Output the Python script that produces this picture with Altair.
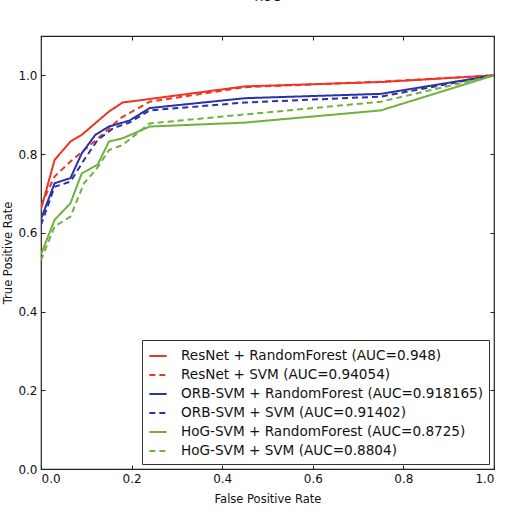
import altair as alt
import pandas as pd

series_names = [
    "ResNet + RandomForest (AUC=0.948)",
    "ResNet + SVM (AUC=0.94054)",
    "ORB-SVM + RandomForest (AUC=0.918165)",
    "ORB-SVM + SVM (AUC=0.91402)",
    "HoG-SVM + RandomForest (AUC=0.8725)",
    "HoG-SVM + SVM (AUC=0.8804)",
]
series_colors = ["#ee3524", "#ee3524", "#2a32a8", "#2a32a8", "#72b03e", "#72b03e"]
series_dash = [[1, 0], [6, 4], [1, 0], [6, 4], [1, 0], [6, 4]]

resnet_rf_x = [0, 0.03, 0.065, 0.09, 0.15, 0.18, 0.24, 0.45, 0.75, 1.0]
resnet_rf_y = [0.66, 0.785, 0.832, 0.849, 0.908, 0.931, 0.94, 0.972, 0.983, 1.0]
resnet_svm_x = [0, 0.03, 0.065, 0.095, 0.135, 0.175, 0.24, 0.45, 0.75, 1.0]
resnet_svm_y = [0.67, 0.743, 0.781, 0.81, 0.849, 0.891, 0.933, 0.97, 0.984, 1.0]
orb_rf_x = [0, 0.03, 0.065, 0.09, 0.12, 0.15, 0.195, 0.24, 0.45, 0.75, 1.0]
orb_rf_y = [0.635, 0.726, 0.739, 0.802, 0.849, 0.87, 0.885, 0.917, 0.942, 0.953, 1.0]
orb_svm_x = [0, 0.03, 0.065, 0.095, 0.125, 0.16, 0.195, 0.24, 0.45, 0.75, 1.0]
orb_svm_y = [0.62, 0.717, 0.73, 0.785, 0.836, 0.866, 0.88, 0.911, 0.931, 0.946, 1.0]
hog_rf_x = [0, 0.03, 0.065, 0.09, 0.125, 0.15, 0.18, 0.24, 0.45, 0.75, 1.0]
hog_rf_y = [0.545, 0.633, 0.675, 0.751, 0.773, 0.832, 0.84, 0.87, 0.88, 0.911, 1.0]
hog_svm_x = [0, 0.012, 0.03, 0.065, 0.095, 0.125, 0.15, 0.18, 0.24, 0.75, 1.0]
hog_svm_y = [0.53, 0.565, 0.616, 0.641, 0.726, 0.766, 0.81, 0.823, 0.878, 0.933, 1.0]

xs = [resnet_rf_x, resnet_svm_x, orb_rf_x, orb_svm_x, hog_rf_x, hog_svm_x]
ys = [resnet_rf_y, resnet_svm_y, orb_rf_y, orb_svm_y, hog_rf_y, hog_svm_y]

x_ticks = [0.0, 0.2, 0.4, 0.6, 0.8, 1.0]
y_ticks = [0.0, 0.2, 0.4, 0.6, 0.8, 1.0]

rows = []
for name, xv, yv in zip(series_names, xs, ys):
    for i, (a, b) in enumerate(zip(xv, yv)):
        rows.append({"series": name, "fpr": a, "tpr": b, "order": i})
df = pd.DataFrame(rows)

FONT = "DejaVu Sans"

xscale = alt.Scale(domain=[0, 1], nice=False, zero=False)
yscale = alt.Scale(domain=[0, 1.1], nice=False, zero=False)


def make_legend():
    return alt.Legend(title=None, orient="none", legendX=101, legendY=304,
                      symbolType="stroke", symbolStrokeWidth=2,
                      symbolSize=300, labelFontSize=13.6, labelFont=FONT,
                      labelColor="#111", rowPadding=2,
                      strokeColor="#333", fillColor="white",
                      padding=6, labelLimit=400, labelOffset=13)


lines = alt.Chart(df).mark_line(strokeWidth=2, clip=True).encode(
    x=alt.X("fpr:Q", scale=xscale,
            axis=alt.Axis(values=x_ticks, format=".1f", title="False Positive Rate",
                          offset=-4, tickSize=4, domain=False, grid=False,
                          labelPadding=4, titlePadding=9, tickColor="#222")),
    y=alt.Y("tpr:Q", scale=yscale,
            axis=alt.Axis(values=y_ticks, format=".1f", title="True Positive Rate",
                          offset=-4, tickSize=4, domain=False, grid=False,
                          labelPadding=4, titlePadding=4, tickColor="#222")),
    color=alt.Color("series:N",
                    scale=alt.Scale(domain=series_names, range=series_colors),
                    legend=make_legend()),
    strokeDash=alt.StrokeDash("series:N",
                              scale=alt.Scale(domain=series_names, range=series_dash),
                              legend=make_legend()),
    order="order:Q",
)

ticks2 = alt.Chart(df).mark_point(opacity=0).encode(
    x=alt.X("fpr:Q", scale=xscale,
            axis=alt.Axis(values=x_ticks, labels=False, title=None, offset=-4, tickSize=4,
                          domain=False, grid=False, tickColor="#222")),
    y=alt.Y("tpr:Q", scale=yscale,
            axis=alt.Axis(values=y_ticks, labels=False, title=None, offset=-4, tickSize=4,
                          domain=False, grid=False, tickColor="#222")),
)

chart = alt.layer(lines, ticks2).resolve_axis(x="independent", y="independent").properties(
    width=453, height=433,
    title=alt.TitleParams("ROC", fontSize=12, font=FONT, fontWeight="normal", offset=32, color="#111"),
    autosize=alt.AutoSizeParams(type="none"),
    padding={"left": 41, "top": 36, "right": 13, "bottom": 58},
).configure_view(stroke="#222", strokeWidth=1.2).configure_axis(
    labelFont=FONT, labelFontSize=12, labelColor="#111", titleFont=FONT, titleFontSize=11.5,
    titleColor="#111", titleFontWeight="normal"
)

chart.save("out.html", embed_options={"renderer": "svg", "actions": False})
